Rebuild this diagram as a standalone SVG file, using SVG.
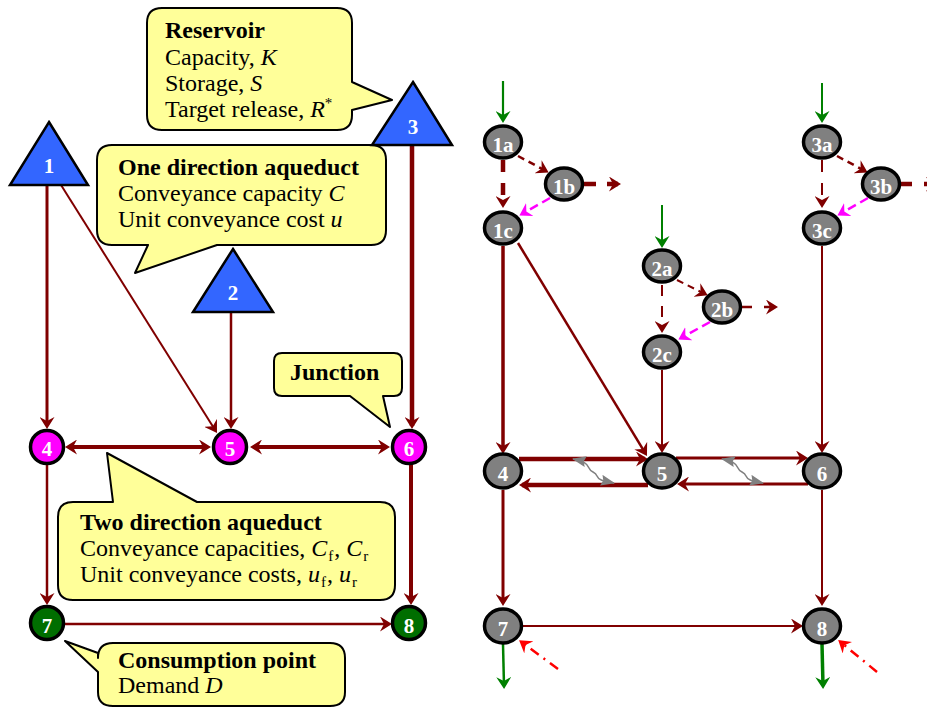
<svg xmlns="http://www.w3.org/2000/svg" width="927" height="708" viewBox="0 0 927 708">
<style>
.call{fill:#FFFF99;stroke:#000;stroke-width:2;stroke-linejoin:round}
.ct{font-family:"Liberation Serif","Times New Roman",serif;font-size:24px;fill:#000}
.b{font-weight:bold}
.i{font-style:italic}
.tri{fill:#3366FF;stroke:#000;stroke-width:2.5;stroke-linejoin:miter}
.lab{font-family:"Liberation Serif","Times New Roman",serif;font-weight:bold;font-size:21px;fill:#fff;text-anchor:middle}
.mn{fill:#FF00FF;stroke:#000;stroke-width:3.5}
.gn{fill:#006E00;stroke:#000;stroke-width:3.5}
.gr{fill:#808080;stroke:#000;stroke-width:3.5}
.e{fill:none;stroke:#800000}
.ea{marker-end:url(#ar)}
.eb{marker-start:url(#ar);marker-end:url(#ar)}
.g{fill:none;stroke:#008000;marker-end:url(#ag)}
.m{fill:none;stroke:#FF00FF;stroke-width:2.5;stroke-dasharray:9 5;marker-end:url(#am)}
.r{fill:none;stroke:#FF0000;stroke-width:2.5;stroke-dasharray:10 6 2 6;marker-end:url(#arr)}
.w{fill:none;stroke:#808080;stroke-width:1.5;marker-start:url(#aw);marker-end:url(#aw)}
</style>
<defs>
<marker id="ar" viewBox="0 0 12 15" refX="9" refY="7.5" markerWidth="12" markerHeight="15" markerUnits="userSpaceOnUse" orient="auto-start-reverse"><path d="M0,0 L12,7.5 L0,15 L4,7.5 Z" fill="#800000"/></marker>
<marker id="ag" viewBox="0 0 12 15" refX="9" refY="7.5" markerWidth="12" markerHeight="15" markerUnits="userSpaceOnUse" orient="auto"><path d="M0,0 L12,7.5 L0,15 L4,7.5 Z" fill="#008000"/></marker>
<marker id="am" viewBox="0 0 12 15" refX="9" refY="7.5" markerWidth="12" markerHeight="15" markerUnits="userSpaceOnUse" orient="auto"><path d="M0,0 L12,7.5 L0,15 L4,7.5 Z" fill="#FF00FF"/></marker>
<marker id="arr" viewBox="0 0 12 15" refX="9" refY="7.5" markerWidth="12" markerHeight="15" markerUnits="userSpaceOnUse" orient="auto"><path d="M0,0 L12,7.5 L0,15 L4,7.5 Z" fill="#FF0000"/></marker>
<marker id="aw" viewBox="0 0 14 11" refX="13" refY="5.5" markerWidth="14" markerHeight="11" markerUnits="userSpaceOnUse" orient="auto-start-reverse"><path d="M0,0 L14,5.5 L0,11 L2,5.5 Z" fill="#808080"/></marker>
</defs>
<rect width="927" height="708" fill="#fff"/>

<!-- callouts -->
<g id="callout-reservoir">
<path class="call" d="M162,8 H337 Q352,8 352,23 V82 L392,100 L352,110 V115 Q352,130 337,130 H162 Q147,130 147,115 V23 Q147,8 162,8 Z"/>
<text class="ct b" x="165" y="38">Reservoir</text>
<text class="ct" x="165" y="65">Capacity, <tspan class="i">K</tspan></text>
<text class="ct" x="165" y="91">Storage, <tspan class="i">S</tspan></text>
<text class="ct" x="165" y="117">Target release, <tspan class="i">R</tspan><tspan font-size="15" dy="-9">*</tspan></text>
</g>
<g id="callout-one-direction">
<path class="call" d="M112,145 H371 Q386,145 386,160 V230 Q386,245 371,245 H217 L135,273 L148,245 H112 Q97,245 97,230 V160 Q97,145 112,145 Z"/>
<text class="ct b" x="118" y="175">One direction aqueduct</text>
<text class="ct" x="118" y="201">Conveyance capacity <tspan class="i">C</tspan></text>
<text class="ct" x="118" y="227">Unit conveyance cost <tspan class="i">u</tspan></text>
</g>
<g id="callout-junction">
<path class="call" d="M282,353 H394 Q402,353 402,361 V388 Q402,396 394,396 H383 L390,427 L350,396 H282 Q274,396 274,388 V361 Q274,353 282,353 Z"/>
<text class="ct b" x="290" y="380">Junction</text>
</g>
<g id="callout-two-direction">
<path class="call" d="M73,502 H113 L107,453 L197,502 H380 Q395,502 395,517 V585 Q395,600 380,600 H73 Q58,600 58,585 V517 Q58,502 73,502 Z"/>
<text class="ct b" x="80" y="530">Two direction aqueduct</text>
<text class="ct" x="80" y="556">Conveyance capacities, <tspan class="i">C</tspan><tspan font-size="15" dx="1" dy="5">f</tspan><tspan dx="1" dy="-5">, </tspan><tspan class="i">C</tspan><tspan font-size="15" dx="1" dy="5">r</tspan></text>
<text class="ct" x="80" y="582">Unit conveyance costs, <tspan class="i">u</tspan><tspan font-size="15" dx="1" dy="5">f</tspan><tspan dx="1" dy="-5">, </tspan><tspan class="i">u</tspan><tspan font-size="15" dx="1" dy="5">r</tspan></text>
</g>
<g id="callout-consumption">
<path class="call" d="M113,643 H330 Q345,643 345,658 V692 Q345,706 330,706 H113 Q98,706 98,692 V672 L65,641 L98,653 V658 Q98,643 113,643 Z"/>
<text class="ct b" x="118" y="668">Consumption point</text>
<text class="ct" x="118" y="693">Demand <tspan class="i">D</tspan></text>
</g>

<!-- connectors -->
<g id="connectors">
<!-- left network -->
<path class="e ea" stroke-width="3" d="M47,185 V426"/>
<path class="e ea" stroke-width="2" d="M61,185 L215.4,430.5"/>
<path class="e ea" stroke-width="2.5" d="M231,312 V426"/>
<path class="e ea" stroke-width="4.5" d="M412,145 V426"/>
<path class="e eb" stroke-width="4" d="M68,447 H208"/>
<path class="e eb" stroke-width="4" d="M253,447 H387"/>
<path class="e ea" stroke-width="2.5" d="M47,465 V602"/>
<path class="e ea" stroke-width="4" d="M411,465 V602"/>
<path class="e ea" stroke-width="2.5" d="M65,624 H389"/>
<!-- right network: inflows -->
<path class="g" stroke-width="2.2" d="M503,81 V120"/>
<path class="g" stroke-width="2" d="M822,83 V120"/>
<path class="g" stroke-width="2" d="M662,205 V245"/>
<!-- reservoir 1 internals -->
<path class="e ea" stroke-width="2.5" stroke-dasharray="7 5" d="M518,156 L546,171"/>
<path class="e ea" stroke-width="4.5" stroke-dasharray="12 11" d="M503,160 V205"/>
<path class="m" d="M550,198 L522,214"/>
<path class="e ea" stroke-width="4.5" stroke-dasharray="12 11" d="M584,184 H618"/>
<!-- reservoir 2 internals -->
<path class="e ea" stroke-width="2" stroke-dasharray="7 5" d="M677,280 L705,294"/>
<path class="e ea" stroke-width="2" stroke-dasharray="11 10" d="M662,285 V330"/>
<path class="m" d="M710,322 L681,338"/>
<path class="e ea" stroke-width="2.5" stroke-dasharray="10 12" d="M742,307 H775"/>
<!-- reservoir 3 internals -->
<path class="e ea" stroke-width="2.5" stroke-dasharray="7 5" d="M837,156 L865,171"/>
<path class="e ea" stroke-width="2" stroke-dasharray="12 11" d="M822,160 V205"/>
<path class="m" d="M868,198 L840,214"/>
<path class="e ea" stroke-width="4.5" stroke-dasharray="12 12" d="M900,184 H935"/>
<!-- main links -->
<path class="e ea" stroke-width="3.5" d="M503,246 V451"/>
<path class="e ea" stroke-width="2.5" d="M518,243 L645.4,453.4"/>
<path class="e ea" stroke-width="2" d="M662,370 V450"/>
<path class="e ea" stroke-width="2" d="M822,246 V450"/>
<path class="e ea" stroke-width="4.5" d="M519,459 H645"/>
<path class="e ea" stroke-width="4.5" d="M648,485 H522"/>
<path class="e ea" stroke-width="3" d="M676,458 H805"/>
<path class="e ea" stroke-width="3" d="M808,484 H680"/>
<path class="e ea" stroke-width="3" d="M503,490 V603"/>
<path class="e ea" stroke-width="2" d="M822,490 V603"/>
<path class="e ea" stroke-width="2" d="M522,626 H800"/>
<path class="w" d="M573,459 C583,461 587,463 589,468 C591,473 595,471 597,476 C599,481 605,481 614,483"/>
<path class="w" d="M722,459 C732,461 736,463 738,468 C740,473 744,471 746,476 C748,481 754,481 763,483"/>
<!-- outflows and return flows -->
<path class="g" stroke-width="2.5" d="M503,644 L504,686"/>
<path class="g" stroke-width="3.5" d="M822,644 L823,686"/>
<path class="r" d="M558,669 L521.5,642"/>
<path class="r" d="M877,672 L840.5,642"/>
</g>

<!-- left nodes -->
<g id="node-1"><path class="tri" d="M49,122 L88,185 L10,185 Z"/><text class="lab" x="49" y="173">1</text></g>
<g id="node-2"><path class="tri" d="M233,249 L273,312 L193,312 Z"/><text class="lab" x="233" y="300">2</text></g>
<g id="node-3"><path class="tri" d="M413,82 L452,145 L372,145 Z"/><text class="lab" x="413" y="134">3</text></g>
<g id="node-4"><circle class="mn" cx="47" cy="447" r="16.5"/><text class="lab" x="47" y="456">4</text></g>
<g id="node-5"><circle class="mn" cx="230" cy="447" r="16.5"/><text class="lab" x="230" y="456">5</text></g>
<g id="node-6"><circle class="mn" cx="409" cy="447" r="16.5"/><text class="lab" x="409" y="456">6</text></g>
<g id="node-7"><circle class="gn" cx="47" cy="623" r="16.5"/><text class="lab" x="47" y="633">7</text></g>
<g id="node-8"><circle class="gn" cx="409" cy="623" r="16.5"/><text class="lab" x="409" y="633">8</text></g>

<!-- right nodes -->
<g id="node-r1a"><ellipse class="gr" cx="503" cy="142" rx="18.5" ry="16"/><text class="lab" x="503" y="152">1a</text></g>
<g id="node-r1b"><ellipse class="gr" cx="564" cy="184" rx="18.5" ry="16"/><text class="lab" x="564" y="194">1b</text></g>
<g id="node-r1c"><ellipse class="gr" cx="503" cy="228" rx="18.5" ry="16"/><text class="lab" x="503" y="238">1c</text></g>
<g id="node-r2a"><ellipse class="gr" cx="662" cy="266" rx="18.5" ry="16"/><text class="lab" x="662" y="276">2a</text></g>
<g id="node-r2b"><ellipse class="gr" cx="722" cy="307" rx="18.5" ry="16"/><text class="lab" x="722" y="317">2b</text></g>
<g id="node-r2c"><ellipse class="gr" cx="662" cy="352" rx="18.5" ry="16"/><text class="lab" x="662" y="362">2c</text></g>
<g id="node-r3a"><ellipse class="gr" cx="822" cy="142" rx="18.5" ry="16"/><text class="lab" x="822" y="152">3a</text></g>
<g id="node-r3b"><ellipse class="gr" cx="881" cy="184" rx="18.5" ry="16"/><text class="lab" x="881" y="194">3b</text></g>
<g id="node-r3c"><ellipse class="gr" cx="822" cy="228" rx="18.5" ry="16"/><text class="lab" x="822" y="238">3c</text></g>
<g id="node-r4"><ellipse class="gr" cx="503" cy="471" rx="18.5" ry="17"/><text class="lab" x="503" y="481">4</text></g>
<g id="node-r5"><ellipse class="gr" cx="662" cy="471" rx="18.5" ry="17"/><text class="lab" x="662" y="481">5</text></g>
<g id="node-r6"><ellipse class="gr" cx="822" cy="471" rx="18.5" ry="17"/><text class="lab" x="822" y="481">6</text></g>
<g id="node-r7"><ellipse class="gr" cx="503" cy="626" rx="18.5" ry="17"/><text class="lab" x="503" y="636">7</text></g>
<g id="node-r8"><ellipse class="gr" cx="822" cy="626" rx="18.5" ry="17"/><text class="lab" x="822" y="636">8</text></g>
</svg>
